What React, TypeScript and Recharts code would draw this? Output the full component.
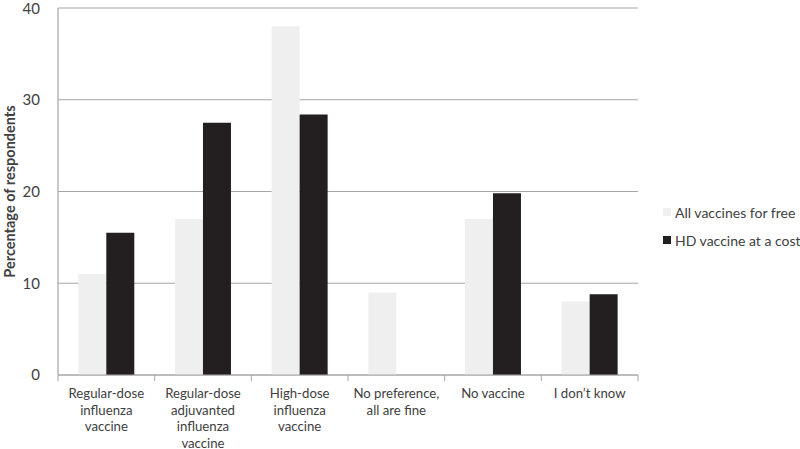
import { Bar, BarChart, CartesianGrid, XAxis, YAxis } from "recharts";

const categories = [
  "Regular-dose\ninfluenza\nvaccine",
  "Regular-dose\nadjuvanted\ninfluenza\nvaccine",
  "High-dose\ninfluenza\nvaccine",
  "No preference,\nall are fine",
  "No vaccine",
  "I don\u2019t know",
];
const allFree = [11, 17, 38, 9, 17, 8];
const hdCost = [15.5, 27.5, 28.4, 0, 19.8, 8.8];
const yTicks = [0, 10, 20, 30, 40];

const data = categories.map((name, i) => ({
  name,
  free: allFree[i],
  cost: hdCost[i],
}));

const FONT = "Lato, 'Open Sans', sans-serif";
const PLOT_W = 580;
const HALF_BAND = PLOT_W / categories.length / 2;

function CategoryTick(props: any) {
  const { x, y, payload, index } = props;
  const lines = String(payload.value).split("\n");
  const axisY = y - 8;
  return (
    <g>
      <line x1={x - HALF_BAND} x2={x - HALF_BAND} y1={axisY} y2={axisY + 6} stroke="#a6a6a6" />
      {index === categories.length - 1 && (
        <line x1={x + HALF_BAND} x2={x + HALF_BAND} y1={axisY} y2={axisY + 6} stroke="#a6a6a6" />
      )}
      <text
        x={x}
        y={y + 15}
        textAnchor="middle"
        fill="#404040"
        fontSize={13.2}
        fontFamily={FONT}
      >
        {lines.map((l, i) => (
          <tspan key={i} x={x} dy={i === 0 ? 0 : 16.5}>
            {l}
          </tspan>
        ))}
      </text>
    </g>
  );
}

function LegendBox() {
  const items = [
    { label: "All vaccines for free", color: "#efefef" },
    { label: "HD vaccine at a cost", color: "#231f20" },
  ];
  return (
    <div
      style={{
        position: "absolute",
        left: 663,
        top: 198,
        fontFamily: FONT,
        fontSize: 14,
        color: "#404040",
        whiteSpace: "nowrap",
      }}
    >
      {items.map((it) => (
        <div
          key={it.label}
          style={{ display: "flex", alignItems: "center", height: 28 }}
        >
          <span
            style={{
              width: 8,
              height: 8,
              background: it.color,
              display: "inline-block",
              marginRight: 4,
            }}
          />
          <span>{it.label}</span>
        </div>
      ))}
    </div>
  );
}

export default function App() {
  return (
    <div
      style={{
        position: "absolute",
        left: 0,
        top: 0,
        width: 800,
        height: 449,
        background: "#fff",
      }}
    >
      <BarChart
        width={800}
        height={449}
        data={data}
        margin={{ top: 8, right: 162, bottom: 0, left: 0 }}
        barCategoryGap="21%"
        barGap={0}
      >
        <CartesianGrid vertical={false} stroke="#a6a6a6" strokeWidth={1.2} />
        <XAxis
          dataKey="name"
          interval={0}
          tick={<CategoryTick />}
          tickLine={false}
          axisLine={{ stroke: "#a6a6a6", strokeWidth: 1.2 }}
          height={74}
        />
        <YAxis
          domain={[0, 40]}
          ticks={yTicks}
          width={58}
          tickLine={false}
          axisLine={{ stroke: "#a6a6a6", strokeWidth: 1.2 }}
          tickMargin={12}
          tick={{ fill: "#404040", fontSize: 15, fontFamily: FONT }}
          label={{
            value: "Percentage of respondents",
            angle: -90,
            position: "insideLeft",
            offset: 10,
            style: {
              textAnchor: "middle",
              fontWeight: "bold",
              fontSize: 14.5,
              fill: "#404040",
              fontFamily: FONT,
            },
          }}
        />
        <Bar dataKey="free" fill="#efefef" isAnimationActive={false} />
        <Bar dataKey="cost" fill="#231f20" isAnimationActive={false} />
      </BarChart>
      <LegendBox />
    </div>
  );
}
